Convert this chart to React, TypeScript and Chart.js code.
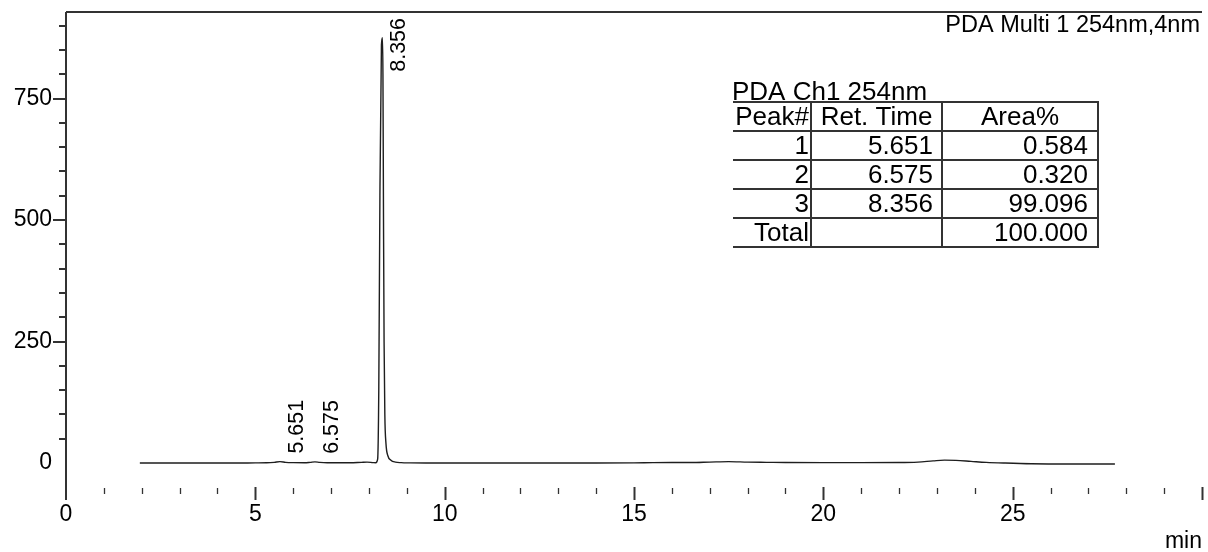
import React, { useEffect, useRef } from 'react';
import { Chart, registerables } from 'chart.js';

Chart.register(...registerables);

// Chromatogram trace: retention time (min) and detector signal (mAU)
const traceTimes = [
  1.95, 2.5, 3.0, 3.5, 4.0, 4.5, 5.0, 5.3, 5.5, 5.651, 5.8, 6.0, 6.3, 6.45, 6.575, 6.7, 6.9, 7.2, 7.5, 7.8, 7.95, 8.1,
  8.18, 8.23, 8.26, 8.29, 8.33, 8.356, 8.37, 8.385, 8.40, 8.42, 8.45, 8.50, 8.58, 8.70, 8.85,
  9.1, 9.5, 10, 11, 12, 13, 14, 15, 15.5, 16, 16.5, 17, 17.5, 18, 18.5, 19, 20, 21, 22, 22.5, 22.9, 23.2, 23.5, 23.9,
  24.3, 24.8, 25.5, 26.5, 27.7,
];
const traceSignal = [
  0, 0, 0, 0, 0, 0, 0.3, 0.5, 1.5, 3.0, 1.5, 0.8, 0.6, 1.5, 2.5, 1.4, 0.6, 0.5, 0.5, 1.5, 2.0, 1.0,
  0.5, 8, 150, 550, 860, 875, 800, 500, 250, 100, 40, 15, 6, 2, 0.8,
  0.3, 0, 0, 0, 0, 0, 0, 0.3, 0.8, 1.0, 1.0, 2.0, 3.0, 2.0, 1.5, 1.0, 0.8, 0.8, 1.0, 2.0, 4.5, 6.0, 5.5, 3.5,
  1.5, 0, -1.5, -2, -2,
];

// Integrated peaks
const peakNumbers = ['1', '2', '3'];
const peakRetTimes = [5.651, 6.575, 8.356];
const peakHeights = [3.0, 2.5, 875];
const peakAreaPct = [0.584, 0.32, 99.096];
const totalAreaPct = 100.0;

// Axes
const xRange = [0, 30];
const yRange = [-76, 928];
const xLabelTicks = [0, 5, 10, 15, 20, 25];
const yLabelTicks = [0, 250, 500, 750];
const xUnitLabel = 'min';

const detectorLabel = 'PDA Multi 1 254nm,4nm';
const tableTitle = 'PDA Ch1 254nm';
const tableHeaders = ['Peak#', 'Ret. Time', 'Area%'];
const totalRowLabel = 'Total';

const FONT = '"Liberation Sans", Arial, Helvetica, sans-serif';
const INK = '#000';
const LINE = '#333';

const annotations = {
  id: 'chromAnnotations',
  afterDraw(chart: any) {
    const { ctx, chartArea: a, scales } = chart;
    const x = scales.x;
    const y = scales.y;
    ctx.save();

    // frame: top edge and left axis
    ctx.strokeStyle = LINE;
    ctx.lineWidth = 2;
    ctx.beginPath();
    ctx.moveTo(a.left, a.top);
    ctx.lineTo(a.right, a.top);
    ctx.moveTo(a.left, a.top);
    ctx.lineTo(a.left, a.bottom);
    ctx.stroke();

    // y tick marks every 50, longer at labelled values
    for (let v = 50; v <= 900; v += 50) {
      const py = Math.round(y.getPixelForValue(v));
      const len = v % 250 === 0 ? 13 : 7;
      ctx.beginPath();
      ctx.moveTo(a.left - len, py);
      ctx.lineTo(a.left, py);
      ctx.stroke();
    }

    // x tick marks every minute, longer every 5 minutes
    for (let t = 1; t <= 30; t++) {
      const px = Math.round(x.getPixelForValue(t)) + 0.5;
      const major = t % 5 === 0;
      ctx.lineWidth = major ? 2 : 1.3;
      ctx.beginPath();
      ctx.moveTo(px, major ? a.bottom - 13 : a.bottom - 12);
      ctx.lineTo(px, major ? a.bottom : a.bottom - 6);
      ctx.stroke();
    }

    // unit label
    ctx.fillStyle = INK;
    ctx.font = `23px ${FONT}`;
    ctx.textAlign = 'right';
    ctx.textBaseline = 'alphabetic';
    ctx.fillText(xUnitLabel, a.right, 548);

    // detector label
    ctx.font = `23.5px ${FONT}`;
    ctx.fillText(detectorLabel, 1200, 32);

    // rotated retention-time labels next to each peak
    ctx.font = `21.5px ${FONT}`;
    peakRetTimes.forEach((t, i) => {
      const text = t.toFixed(3);
      const w = ctx.measureText(text).width;
      const px = x.getPixelForValue(t);
      const py = y.getPixelForValue(peakHeights[i]);
      const startY = Math.max(py - 8, a.top + 6 + w);
      ctx.save();
      ctx.translate(px + 23, startY);
      ctx.rotate(-Math.PI / 2);
      ctx.textAlign = 'left';
      ctx.textBaseline = 'alphabetic';
      ctx.fillText(text, 0, 0);
      ctx.restore();
    });

    // peak table
    const tLeft = 733;
    const cols = [733, 811, 942, 1098];
    const rowTop = 102;
    const rowH = 29;
    const nRows = peakRetTimes.length + 2;

    ctx.font = `26px ${FONT}`;
    ctx.textAlign = 'left';
    ctx.fillText(tableTitle, 732, 100);

    ctx.strokeStyle = LINE;
    ctx.lineWidth = 2;
    ctx.beginPath();
    for (let r = 0; r <= nRows; r++) {
      const yy = rowTop + r * rowH;
      ctx.moveTo(tLeft, yy);
      ctx.lineTo(cols[3] + 1, yy);
    }
    for (let c = 1; c < cols.length; c++) {
      ctx.moveTo(cols[c], rowTop);
      ctx.lineTo(cols[c], rowTop + nRows * rowH);
    }
    ctx.stroke();

    ctx.font = `26px ${FONT}`;
    const base = (r: number) => rowTop + (r + 1) * rowH - 6.5;
    ctx.textAlign = 'center';
    tableHeaders.forEach((h, c) => {
      ctx.fillText(h, (cols[c] + cols[c + 1]) / 2, base(0));
    });
    ctx.textAlign = 'right';
    peakRetTimes.forEach((t, i) => {
      const r = i + 1;
      ctx.fillText(peakNumbers[i], cols[1] - 2, base(r));
      ctx.fillText(t.toFixed(3), cols[2] - 9, base(r));
      ctx.fillText(peakAreaPct[i].toFixed(3), cols[3] - 10, base(r));
    });
    const tr = peakRetTimes.length + 1;
    ctx.fillText(totalRowLabel, cols[1] - 2, base(tr));
    ctx.fillText(totalAreaPct.toFixed(3), cols[3] - 10, base(tr));

    ctx.restore();
  },
};

export default function App() {
  const canvasRef = useRef<HTMLCanvasElement>(null);

  useEffect(() => {
    const canvas = canvasRef.current;
    if (!canvas) return;
    const chart = new Chart(canvas, {
      type: 'line',
      data: {
        datasets: [
          {
            data: traceTimes.map((t, i) => ({ x: t, y: traceSignal[i] })),
            borderColor: '#1e1e1e',
            borderWidth: 1.4,
            pointRadius: 0,
            fill: false,
            cubicInterpolationMode: 'monotone',
          },
        ],
      },
      options: {
        animation: false,
        responsive: false,
        maintainAspectRatio: false,
        events: [],
        layout: { padding: { top: 12, right: 6, left: 0, bottom: 0 } },
        plugins: { legend: { display: false }, tooltip: { enabled: false }, title: { display: false } },
        scales: {
          x: {
            type: 'linear',
            min: xRange[0],
            max: xRange[1],
            afterBuildTicks: (s: any) => {
              s.ticks = xLabelTicks.map((v) => ({ value: v }));
            },
            afterFit: (s: any) => {
              s.height = 52;
              s.paddingLeft = 0;
              s.paddingRight = 0;
            },
            grid: { display: false, drawTicks: false },
            border: { display: false },
            ticks: {
              padding: 1,
              color: INK,
              maxRotation: 0,
              autoSkip: false,
              font: { family: FONT, size: 23 },
              callback: (v: any) => String(v),
            },
          },
          y: {
            type: 'linear',
            min: yRange[0],
            max: yRange[1],
            afterBuildTicks: (s: any) => {
              s.ticks = yLabelTicks.map((v) => ({ value: v }));
            },
            afterFit: (s: any) => {
              s.width = 66;
              s.paddingTop = 0;
              s.paddingBottom = 0;
            },
            grid: { display: false, drawTicks: false },
            border: { display: false },
            ticks: {
              padding: 14,
              color: INK,
              autoSkip: false,
              font: { family: FONT, size: 23 },
              callback: (v: any) => String(v),
            },
          },
        },
      },
      plugins: [annotations],
    });
    return () => chart.destroy();
  }, []);

  return (
    <div style={{ position: 'fixed', left: 0, top: 0, width: 1208, height: 552, background: '#fff' }}>
      <canvas ref={canvasRef} width={1208} height={552} style={{ display: 'block' }} />
    </div>
  );
}
